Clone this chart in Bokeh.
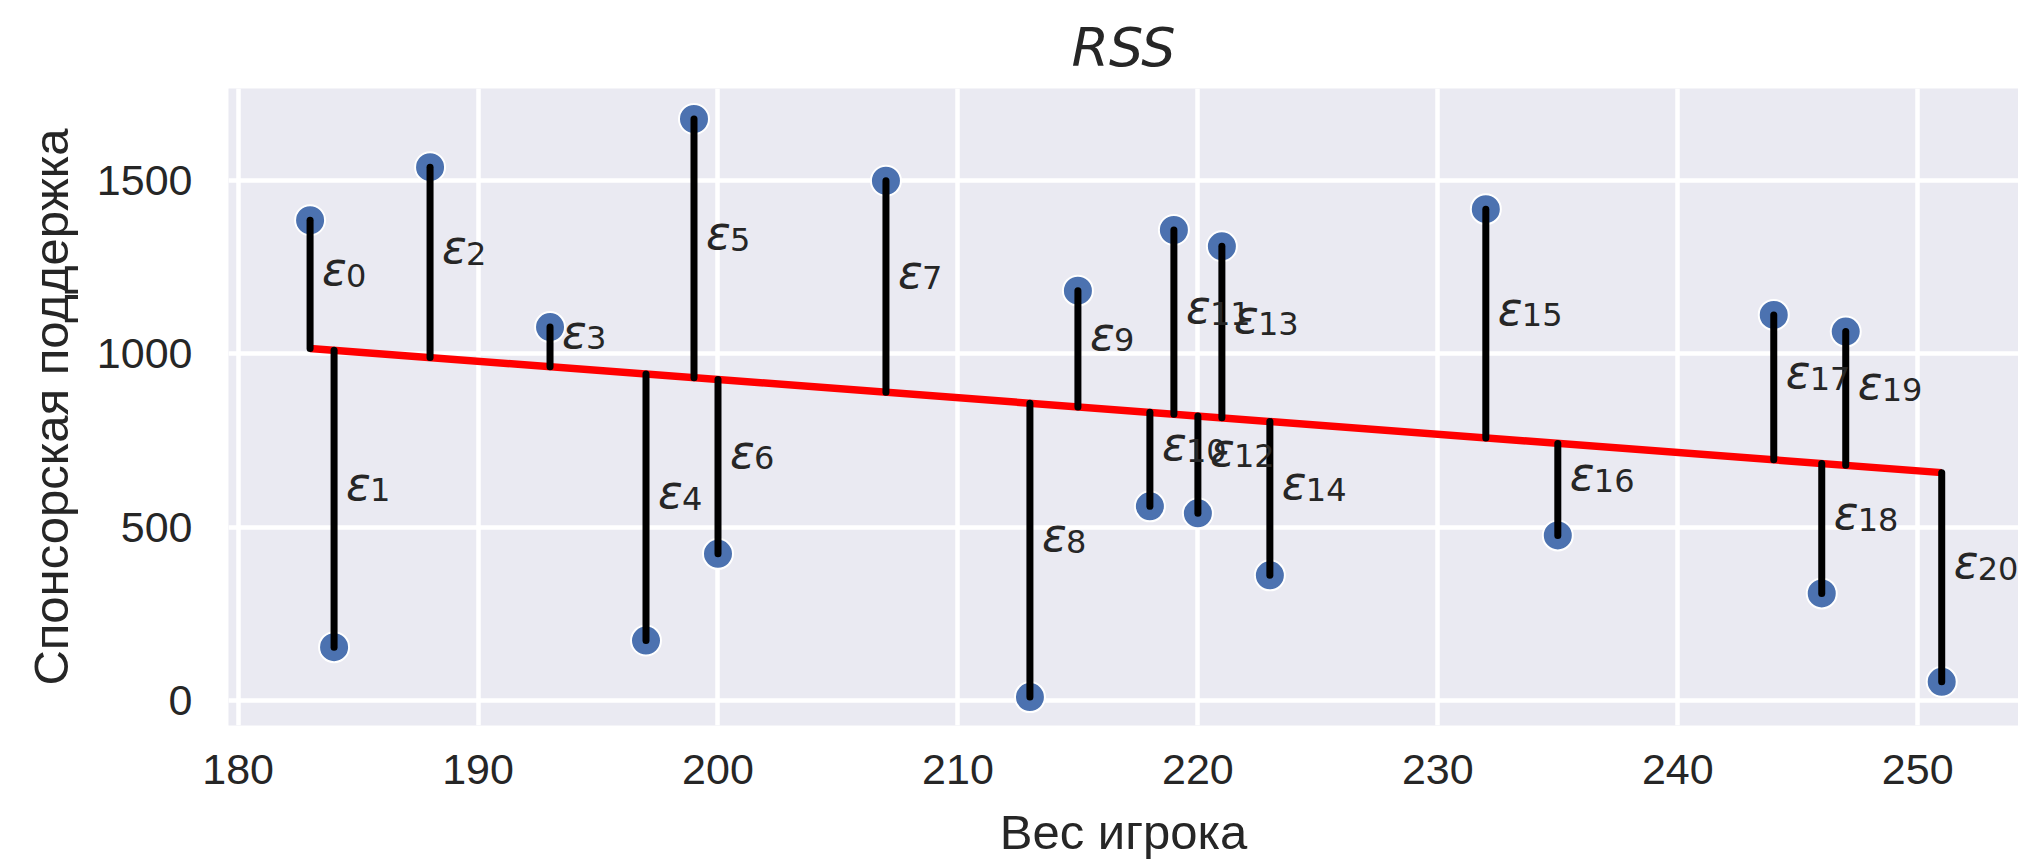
import numpy as np
from bokeh.plotting import figure
from bokeh.models import ColumnDataSource, Range1d, FixedTicker
from bokeh.core.properties import value
from bokeh.embed import file_html
from bokeh.resources import INLINE

# ---- data ----
weight = [183, 184, 188, 193, 197, 199, 200, 207, 213, 215, 218,
          219, 220, 221, 223, 232, 235, 244, 246, 247, 251]
sponsor = [1385, 154, 1538, 1077, 173, 1677, 423, 1499, 10, 1182, 560,
           1357, 540, 1310, 361, 1417, 476, 1112, 309, 1064, 54]
x_ticks = [180, 190, 200, 210, 220, 230, 240, 250]
y_ticks = [0, 500, 1000, 1500]
title_text = "RSS"
x_label = "Вес игрока"
y_label = "Спонсорская поддержка"

# ---- least squares fit (the red line) ----
xs = np.array(weight, dtype=float)
ys = np.array(sponsor, dtype=float)
slope, intercept = np.polyfit(xs, ys, 1)
yhat = intercept + slope * xs
mid = (ys + yhat) / 2.0

TEXT = "#262626"

p = figure(width=2018, height=864, output_backend="svg", toolbar_location=None,
           x_range=Range1d(179.6, 254.2), y_range=Range1d(-72, 1765),
           min_border_left=228, min_border_right=0, min_border_top=88,
           min_border_bottom=139)

p.background_fill_color = "#EAEAF2"
p.border_fill_color = "white"
p.outline_line_color = None

p.title.text = title_text
p.title.text_font = "DejaVu Sans"
p.title.text_font_style = "italic"
p.title.text_font_size = "54px"
p.title.text_color = TEXT
p.title.align = "center"
p.title.standoff = 19

for ax in (p.xaxis[0], p.yaxis[0]):
    ax.axis_line_color = None
    ax.major_tick_line_color = None
    ax.minor_tick_line_color = None
    ax.major_tick_out = 0
    ax.major_tick_in = 0
    ax.major_label_text_font = "Liberation Sans"
    ax.major_label_text_font_size = "43px"
    ax.major_label_text_color = TEXT
    ax.axis_label_text_font = "Liberation Sans"
    ax.axis_label_text_font_size = "49px"
    ax.axis_label_text_font_style = "normal"
    ax.axis_label_text_color = TEXT

p.xaxis[0].ticker = FixedTicker(ticks=x_ticks)
p.yaxis[0].ticker = FixedTicker(ticks=y_ticks)
p.xaxis[0].axis_label = x_label
p.yaxis[0].axis_label = y_label
p.xaxis[0].major_label_standoff = 29
p.yaxis[0].major_label_standoff = 36
p.xaxis[0].axis_label_standoff = 18
p.yaxis[0].axis_label_standoff = 16

for g in (p.xgrid[0], p.ygrid[0]):
    g.grid_line_color = "white"
    g.grid_line_width = 4.5

src = ColumnDataSource(dict(x=xs, y=ys, yhat=yhat, mid=mid,
                            lx=xs + 0.5,
                            idx=[str(i) for i in range(len(weight))],
                            eps=["ε"] * len(weight)))

p.scatter("x", "y", source=src, size=30, fill_color="#4C72B0",
          line_color="white", line_width=2)

p.line([xs.min(), xs.max()], [intercept + slope * xs.min(), intercept + slope * xs.max()],
       line_color="red", line_width=7.5)

p.segment(x0="x", y0="y", x1="x", y1="yhat", source=src,
          line_color="black", line_width=7, line_cap="round")

p.text(x="lx", y="mid", text="eps", source=src, text_font=value("DejaVu Sans"),
       text_font_style="italic", text_font_size="46px", text_color=TEXT,
       text_baseline="alphabetic", text_align="left", y_offset=-15)
p.text(x="lx", y="mid", text="idx", source=src, text_font=value("DejaVu Sans"),
       text_font_size="32px", text_color=TEXT, x_offset=24, y_offset=-9,
       text_baseline="alphabetic", text_align="left")

open("out.html", "w").write(file_html(p, INLINE))
